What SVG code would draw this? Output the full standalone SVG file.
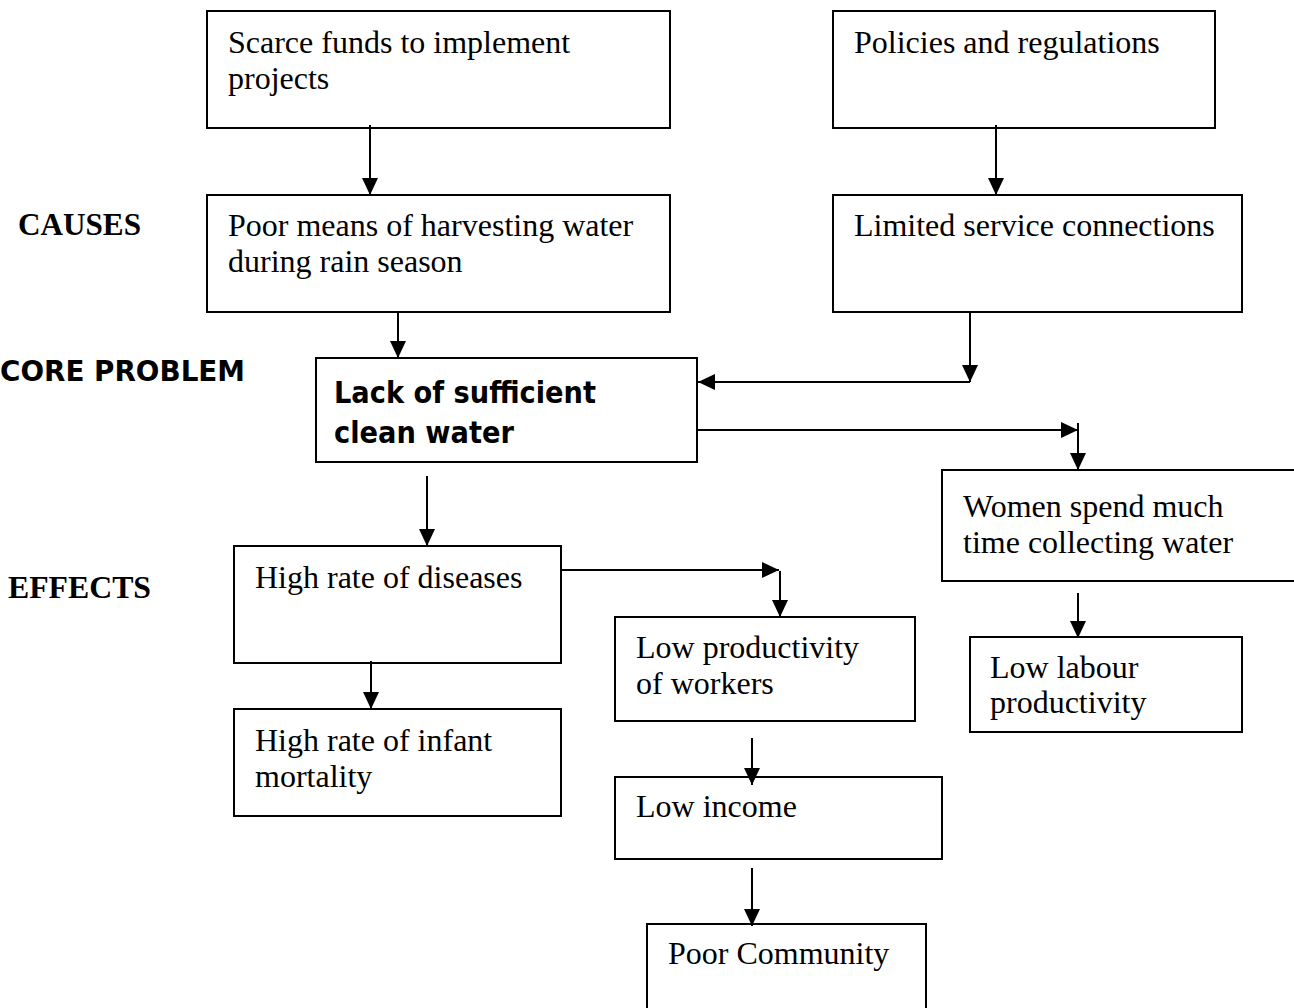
<svg xmlns="http://www.w3.org/2000/svg" width="1294" height="1008" viewBox="0 0 1294 1008">
<style>
.box{fill:#fff;stroke:#000;stroke-width:2}
.t{font-family:"Liberation Serif","Times New Roman",serif;font-size:32px;fill:#000}
.lbl{font-family:"Liberation Serif","Times New Roman",serif;font-size:32px;font-weight:bold;fill:#000}
.core{font-family:"DejaVu Sans","Liberation Sans",sans-serif;font-weight:900;fill:#000}
.c{stroke:#000;stroke-width:2;fill:none}
</style>
<defs>
<marker id="ah" markerUnits="userSpaceOnUse" markerWidth="18" markerHeight="18" viewBox="0 0 18 18" refX="17" refY="9" orient="auto">
<path d="M0,1 L17,9 L0,17 Z" fill="#000"/>
</marker>
</defs>
<rect width="1294" height="1008" fill="#fff"/>
<g id="labels">
<text class="lbl" x="18" y="235" textLength="123" lengthAdjust="spacingAndGlyphs">CAUSES</text>
<text class="core" x="0" y="381" font-size="28" textLength="245" lengthAdjust="spacingAndGlyphs">CORE PROBLEM</text>
<text class="lbl" x="8" y="598" textLength="143" lengthAdjust="spacingAndGlyphs">EFFECTS</text>
</g>
<g id="n-scarce"><rect class="box" x="207" y="11" width="463" height="117"/><text class="t" x="228" y="53">Scarce funds to implement</text><text class="t" x="228" y="89">projects</text></g>
<g id="n-policies"><rect class="box" x="833" y="11" width="382" height="117"/><text class="t" x="854" y="53">Policies and regulations</text></g>
<g id="n-poor-means"><rect class="box" x="207" y="195" width="463" height="117"/><text class="t" x="228" y="236">Poor means of harvesting water</text><text class="t" x="228" y="272">during rain season</text></g>
<g id="n-limited"><rect class="box" x="833" y="195" width="409" height="117"/><text class="t" x="854" y="236">Limited service connections</text></g>
<g id="n-core"><rect class="box" x="316" y="358" width="381" height="104"/><text class="core" x="334" y="403" font-size="30" textLength="262" lengthAdjust="spacingAndGlyphs">Lack of sufficient</text><text class="core" x="334" y="443" font-size="30" textLength="180" lengthAdjust="spacingAndGlyphs">clean water</text></g>
<g id="n-women"><rect class="box" x="942" y="470" width="360" height="111"/><text class="t" x="963" y="517">Women spend much</text><text class="t" x="963" y="553">time collecting water</text></g>
<g id="n-diseases"><rect class="box" x="234" y="546" width="327" height="117"/><text class="t" x="255" y="588">High rate of diseases</text></g>
<g id="n-lowprod"><rect class="box" x="615" y="617" width="300" height="104"/><text class="t" x="636" y="658">Low productivity</text><text class="t" x="636" y="694">of workers</text></g>
<g id="n-lowlabour"><rect class="box" x="970" y="637" width="272" height="95"/><text class="t" x="990" y="678">Low labour</text><text class="t" x="990" y="713">productivity</text></g>
<g id="n-infant"><rect class="box" x="234" y="709" width="327" height="107"/><text class="t" x="255" y="751">High rate of infant</text><text class="t" x="255" y="787">mortality</text></g>
<g id="n-income"><rect class="box" x="615" y="777" width="327" height="82"/><text class="t" x="636" y="817">Low income</text></g>
<g id="n-community"><rect class="box" x="647" y="924" width="279" height="100"/><text class="t" x="668" y="964">Poor Community</text></g>
<g id="connectors">
<line class="c" x1="370" y1="125" x2="370" y2="195" marker-end="url(#ah)"/>
<line class="c" x1="996" y1="125" x2="996" y2="195" marker-end="url(#ah)"/>
<line class="c" x1="398" y1="313" x2="398" y2="358" marker-end="url(#ah)"/>
<line class="c" x1="970" y1="313" x2="970" y2="382" marker-end="url(#ah)"/>
<line class="c" x1="970" y1="382" x2="698" y2="382" marker-end="url(#ah)"/>
<line class="c" x1="697" y1="430" x2="1078" y2="430" marker-end="url(#ah)"/>
<line class="c" x1="1078" y1="423" x2="1078" y2="470" marker-end="url(#ah)"/>
<line class="c" x1="427" y1="476" x2="427" y2="546" marker-end="url(#ah)"/>
<line class="c" x1="561" y1="570" x2="779" y2="570" marker-end="url(#ah)"/>
<line class="c" x1="780" y1="571" x2="780" y2="617" marker-end="url(#ah)"/>
<line class="c" x1="371" y1="661" x2="371" y2="709" marker-end="url(#ah)"/>
<line class="c" x1="752" y1="738" x2="752" y2="785" marker-end="url(#ah)"/>
<line class="c" x1="752" y1="868" x2="752" y2="926" marker-end="url(#ah)"/>
<line class="c" x1="1078" y1="593" x2="1078" y2="638" marker-end="url(#ah)"/>
</g>
</svg>
